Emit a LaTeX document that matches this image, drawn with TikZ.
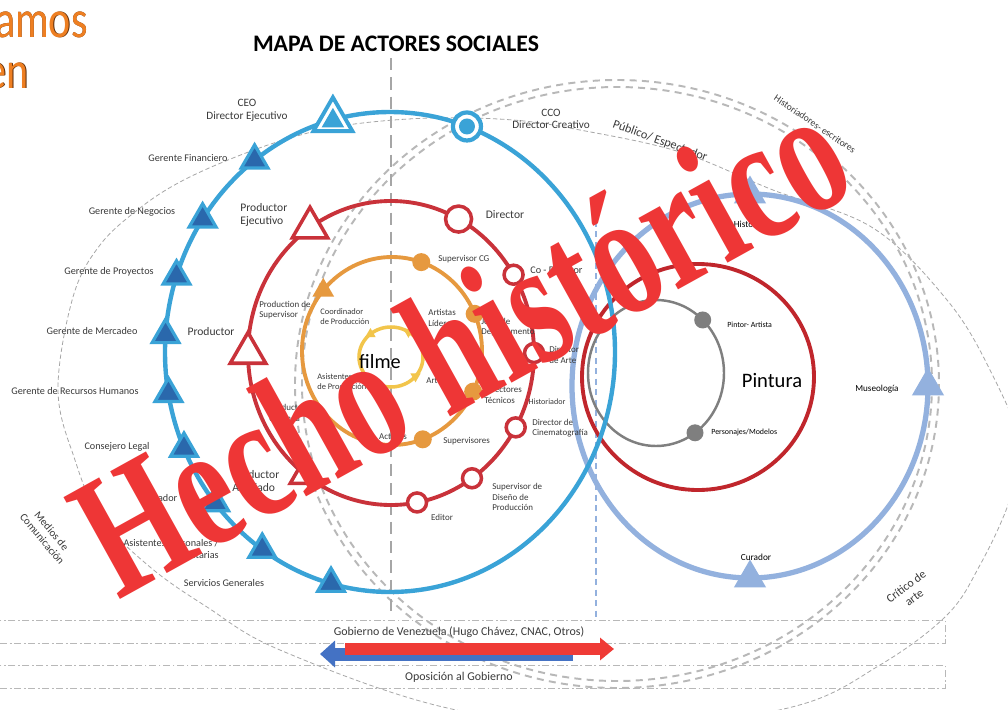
\documentclass[tikz,border=0pt]{standalone}
\usepackage{fontspec}
\setmainfont{Carlito}
\newfontfamily\wmfont{Liberation Serif}
\usetikzlibrary{shapes.geometric,arrows.meta,calc}
\definecolor{cblue}{HTML}{3AA3D7}
\definecolor{cdblue}{HTML}{2A68AC}
\definecolor{cred}{HTML}{C9323A}
\definecolor{corange}{HTML}{E6993F}
\definecolor{cyellow}{HTML}{F2C54B}
\definecolor{clblue}{HTML}{93B1DE}
\definecolor{cpred}{HTML}{C0262C}
\definecolor{cgray}{HTML}{7F7F7F}
\definecolor{dgray}{HTML}{B8B8B8}
\definecolor{lgray}{HTML}{A6A6A6}
\definecolor{tgray}{HTML}{3A3A3A}
\definecolor{wmred}{HTML}{EE3636}
\definecolor{arrred}{HTML}{EF3B36}
\definecolor{arrblue}{HTML}{4472C4}
\definecolor{otxt}{HTML}{EE7F22}
\definecolor{odark}{HTML}{5A2A08}
\begin{document}
\begin{tikzpicture}[x=0.02cm,y=-0.02cm,
  lbl/.style={font=\fontsize{5.8}{6.6}\selectfont,text=tgray,inner sep=0pt,align=left},
  slbl/.style={font=\fontsize{5.1}{6.0}\selectfont,text=tgray,inner sep=0pt,align=left},
  big/.style={font=\fontsize{6.6}{7.6}\selectfont,text=tgray,inner sep=0pt,align=left},
  tri/.style={regular polygon,regular polygon sides=3,inner sep=0pt},
  btri/.style={tri,minimum size=0.62cm,fill=cdblue,draw=cblue,line width=1.8pt},
  rtri/.style={tri,minimum size=0.82cm,fill=white,draw=cred,line width=2pt},
  rcirc/.style={circle,inner sep=0pt,minimum size=0.38cm,fill=white,draw=cred,line width=2pt},
  odot/.style={circle,inner sep=0pt,minimum size=0.36cm,fill=corange},
  gdot/.style={circle,inner sep=0pt,minimum size=0.34cm,fill=cgray},
  lbtri/.style={tri,minimum size=0.74cm,fill=clblue},
  ytri/.style={tri,minimum size=0.24cm,fill=cyellow},
  ddash/.style={dgray,line width=1.1pt,dash pattern=on 4pt off 3pt},
  tdash/.style={lgray,line width=0.45pt,dash pattern=on 2.5pt off 1.5pt},
  boxd/.style={draw=dgray,line width=0.5pt,dash pattern=on 4pt off 1.5pt on 1pt off 1.5pt},
  otext/.style={font=\fontsize{24}{26}\selectfont,inner sep=0pt,anchor=base east,yscale=1.25},
  wmtext/.style={font=\wmfont\bfseries\fontsize{88}{90}\selectfont,inner sep=0pt,rotate=29,xscale=0.82,yscale=1.15},
]
\useasboundingbox (0,0) rectangle (1008,710);
\clip (0,0) rectangle (1008,710);
\fill[white] (0,0) rectangle (1008,710);
% centres
\coordinate (cb) at (390,352);
\coordinate (cr) at (391,353);
\coordinate (co) at (392,351);
\coordinate (cy) at (391,357);
\coordinate (cl) at (750,386);
\coordinate (cp) at (698,377);
\coordinate (cg) at (656,373);
\coordinate (cd) at (617,384);

% thin dashed outer ellipse
\draw[tdash] plot[smooth cycle,tension=0.6] coordinates {
 (58,390) (73,297) (100,245) (140,208) (180,182) (233,158) (290,138) (347,125)
 (430,118) (513,120) (580,130) (680,152) (773,190) (873,228) (947,300) (990,370)
 (1022,450) (1008,505) (980,565) (947,615) (880,665) (792,707) (620,730)
 (443,707) (280,650) (207,607) (150,567) (100,517) (75,460)};
% double dashed ellipse
\draw[ddash] (cd) ellipse [x radius=322,y radius=304];
\draw[ddash] (cd) ellipse [x radius=315,y radius=297];
% vertical dashed lines
\coordinate (v1a) at (391,58); \coordinate (v1b) at (391,615);
\draw[lgray,line width=0.7pt,dash pattern=on 7pt off 4pt] (v1a) -- (v1b);
\coordinate (v2a) at (596,210); \coordinate (v2b) at (596,620);
\draw[clblue,line width=0.7pt,dash pattern=on 3.5pt off 2.5pt] (v2a) -- (v2b);
% bottom boxes
\draw[boxd] (-5,620) rectangle (945,643);
\draw[boxd] (-5,665) rectangle (945,688);

% right group
\draw[clblue,line width=3pt] (cl) ellipse [x radius=178,y radius=192];
\draw[cpred,line width=2.2pt] (cp) ellipse [x radius=116,y radius=113];
\draw[cgray,line width=1.4pt] (cg) ellipse [x radius=68,y radius=73];
\node[lbtri] (hist) at ($(cl)+(-90:178 and 192)$) {};
\node[lbtri] (muse) at ($(cl)+(0:178 and 192)$) {};
\node[lbtri] (cura) at ($(cl)+(90:178 and 192)$) {};
\node[gdot] (pint) at ($(cg)+(-46.6:68 and 73)$) {};
\node[gdot] (pers) at ($(cg)+(55:68 and 73)$) {};

% blue ring
\draw[cblue,line width=2.5pt] (cb) ellipse [x radius=225,y radius=240];
\node[btri] (gfin) at ($(cb)+(-127:225 and 240)$) {};
\node[btri] (gneg) at ($(cb)+(-146.4:225 and 240)$) {};
\node[btri] (gpro) at ($(cb)+(-161.6:225 and 240)$) {};
\node[btri] (gmer) at ($(cb)+(-175.9:225 and 240)$) {};
\node[btri] (grrh) at ($(cb)+(170:225 and 240)$) {};
\node[btri] (gleg) at ($(cb)+(156.3:225 and 240)$) {};
\node[btri] (gcon) at ($(cb)+(141:225 and 240)$) {};
\node[btri] (gasi) at ($(cb)+(124.6:225 and 240)$) {};
\node[btri] (gser) at ($(cb)+(105.2:225 and 240)$) {};
\node[tri,minimum size=0.9cm,fill=white,draw=cblue,line width=2.2pt] (ceo) at ($(cb)+(-104.7:225 and 240)$) {};
\node[tri,minimum size=0.52cm,fill=cblue] (ceoin) at ($(ceo.center)+(0,1)$) {};
\node[circle,inner sep=0pt,minimum size=0.56cm,fill=white,draw=cblue,line width=2.4pt] (cco) at ($(cb)+(-70:225 and 240)$) {};
\node[circle,inner sep=0pt,minimum size=0.32cm,fill=cblue] (ccoin) at (cco.center) {};

% red ring
\draw[cred,line width=2.2pt] (cr) ellipse [x radius=143,y radius=152];
\node[rtri] (pej) at ($(cr)+(-124.5:143 and 152)$) {};
\node[rtri] (pro) at ($(cr)+(180:143 and 152)$) {};
\node[rtri,minimum size=0.7cm] (pas) at ($(cr)+(126.8:143 and 152)$) {};
\node[rcirc,minimum size=0.52cm] (dir) at ($(cr)+(-61.8:143 and 152)$) {};
\node[rcirc] (codir) at ($(cr)+(-31:143 and 152)$) {};
\node[rcirc] (darte) at ($(cr)+(0:143 and 152)$) {};
\node[rcirc] (dcine) at ($(cr)+(29.3:143 and 152)$) {};
\node[rcirc] (sdis) at ($(cr)+(55.5:143 and 152)$) {};
\node[rcirc] (edit) at ($(cr)+(79.5:143 and 152)$) {};

% orange ring
\draw[corange,line width=2.2pt] (co) ellipse [x radius=90,y radius=94];
\node[odot] (scg) at ($(co)+(-71:90 and 94)$) {};
\node[odot] (jef) at ($(co)+(-23.3:90 and 94)$) {};
\node[odot] (dtec) at ($(co)+(25.6:90 and 94)$) {};
\node[odot] (act) at ($(co)+(70:90 and 94)$) {};
\node[tri,minimum size=0.5cm,fill=corange] (coord) at ($(co)+(-139.8:90 and 94)$) {};

% yellow ring
\draw[cyellow,line width=2pt] (cy) ellipse [x radius=32,y radius=30];
\node[ytri] (y1) at ($(cy)+(-130:32 and 30)$) {};
\node[ytri,rotate=180] (y2) at ($(cy)+(-57:32 and 30)$) {};
\node[ytri,rotate=180] (y3) at ($(cy)+(40:32 and 30)$) {};

% title and corner text
\node[font=\bfseries\fontsize{13.5}{15}\selectfont,inner sep=0pt] (title) at (396,44) {MAPA DE ACTORES SOCIALES};
\node[otext,text=odark] (t1s) at (88.7,37.7) {amos};
\node[otext,text=odark] (t2s) at (29.7,88.7) {en};
\node[otext,text=otxt] (t1) at (88,37) {amos};
\node[otext,text=otxt] (t2) at (29,88) {en};

% blue labels
\node[font=\fontsize{6.4}{7.2}\selectfont,text=tgray,align=center,inner sep=0pt] (lceo) at (247,110) {CEO\\Director Ejecutivo};
\node[font=\fontsize{6.4}{7.2}\selectfont,text=tgray,align=center,inner sep=0pt] (lcco) at (551,119) {CCO\\Director Creativo};
\node[lbl] (lgf) at (188,158) {Gerente Financiero};
\node[lbl] (lgn) at (132,212) {Gerente de Negocios};
\node[lbl] (lgp) at (109,272) {Gerente de Proyectos};
\node[lbl] (lgm) at (92,331) {Gerente de Mercadeo};
\node[lbl] (lgr) at (75,391) {Gerente de Recursos Humanos};
\node[lbl] (lgl) at (117,447) {Consejero Legal};
\node[lbl] (lgc) at (158,498) {Contador};
\node[lbl,align=right,anchor=east] (lga) at (219,549) {Asistentes Personales /\\Secretarias};
\node[lbl] (lgs) at (224,583) {Servicios Generales};
\node[big,anchor=west] (lpej) at (240,215) {Productor\\Ejecutivo};
\node[big] (lpro) at (211,332) {Productor};

% red labels
\node[big] (ldir) at (505,215) {Director};
\node[slbl,anchor=west] (lps) at (259,310) {Production de\\Supervisor};
\node[slbl,anchor=west] (lpl) at (269,413) {Productor\\en Línea};
\node[big,anchor=west] (lpa) at (232,481) {Productor\\Asociado};
\node[lbl,anchor=west] (lcod) at (530,270) {Co - Director};
\node[slbl,anchor=west] (lda) at (549,355) {Director\\de Arte};
\node[font=\fontsize{4.6}{5.2}\selectfont,text=tgray,inner sep=0pt] (lhis) at (547,402) {Historiador};
\node[slbl,anchor=west] (ldc) at (532,428) {Director de\\Cinematografía};
\node[slbl,anchor=west] (lsd) at (492,497) {Supervisor de\\Diseño de\\Producción};
\node[slbl] (led) at (442,517) {Editor};

% orange labels
\node[slbl,anchor=west] (lscg) at (438,259) {Supervisor CG};
\node[slbl,anchor=west] (lal) at (428,318) {Artistas\\Líderes};
\node[slbl,anchor=west] (ljef) at (481,327) {Jefes de\\Departamento};
\node[font=\fontsize{4.8}{5.6}\selectfont,text=tgray,inner sep=0pt,align=left,anchor=west] (lcoo) at (320,317) {Coordinador\\de Producción};
\node[font=\fontsize{4.8}{5.6}\selectfont,text=tgray,inner sep=0pt,align=left,anchor=west] (lasp) at (317,382) {Asistentes\\de Producción};
\node[slbl,anchor=west] (lart) at (426,380) {Artistas};
\node[slbl,anchor=west] (ldt) at (484,395) {Directores\\Técnicos};
\node[slbl] (lact) at (393,437) {Actores};
\node[slbl,anchor=west] (lsup) at (443,441) {Supervisores};
\node[font=\fontsize{11.5}{13}\selectfont,inner sep=0pt] (lfil) at (380,362) {filme};

% right labels
\node[font=\fontsize{5.3}{6}\selectfont,inner sep=0pt] (lhi2) at (755,224) {Historiador};
\node[font=\fontsize{4.5}{5}\selectfont,inner sep=0pt,anchor=west] (lpa2) at (727,325) {Pintor- Artista};
\node[font=\fontsize{4.5}{5}\selectfont,inner sep=0pt,anchor=west] (lpm) at (711,432) {Personajes/Modelos};
\node[font=\fontsize{5.2}{6}\selectfont,inner sep=0pt] (lmus) at (877,389) {Museología};
\node[font=\fontsize{5.3}{6}\selectfont,inner sep=0pt] (lcur) at (756,557) {Curador};
\node[font=\fontsize{11.7}{13}\selectfont,inner sep=0pt] (lpin) at (772,380) {Pintura};
\node[font=\fontsize{7}{8}\selectfont,text=tgray,inner sep=0pt,rotate=-20] (lpub) at (660,141) {Público/ Espectador};
\node[font=\fontsize{5.5}{6}\selectfont,text=tgray,inner sep=0pt,rotate=-34] (lhe) at (815,124) {Historiadores- escritores};
\node[font=\fontsize{6.8}{7.6}\selectfont,text=tgray,inner sep=0pt,align=center,rotate=37] (lcri) at (910,592) {Crítico de\\arte};
\node[font=\fontsize{6.2}{7}\selectfont,text=tgray,inner sep=0pt,align=center,rotate=-50] (lmed) at (47,535) {Medios de\\Comunicación};

% bottom
\node[font=\fontsize{6.8}{7.6}\selectfont,text=tgray,inner sep=0pt] (lgob) at (459,632) {Gobierno de Venezuela (Hugo Chávez, CNAC, Otros)};
\node[font=\fontsize{6.8}{7.6}\selectfont,text=tgray,inner sep=0pt] (lopo) at (459,677) {Oposición al Gobierno};
\coordinate (ba) at (573,654); \coordinate (bb) at (320,654);
\draw[arrblue,line width=0.26cm,-{Triangle[length=0.3cm,width=0.52cm]}] (ba) -- (bb);
\coordinate (ra) at (345,649); \coordinate (rb) at (614,649);
\draw[arrred,line width=0.23cm,-{Triangle[length=0.28cm,width=0.44cm]}] (ra) -- (rb);

% watermark
\node[wmtext,text=wmred] (wm) at (460,342) {Hecho histórico};
\end{tikzpicture}
\end{document}
